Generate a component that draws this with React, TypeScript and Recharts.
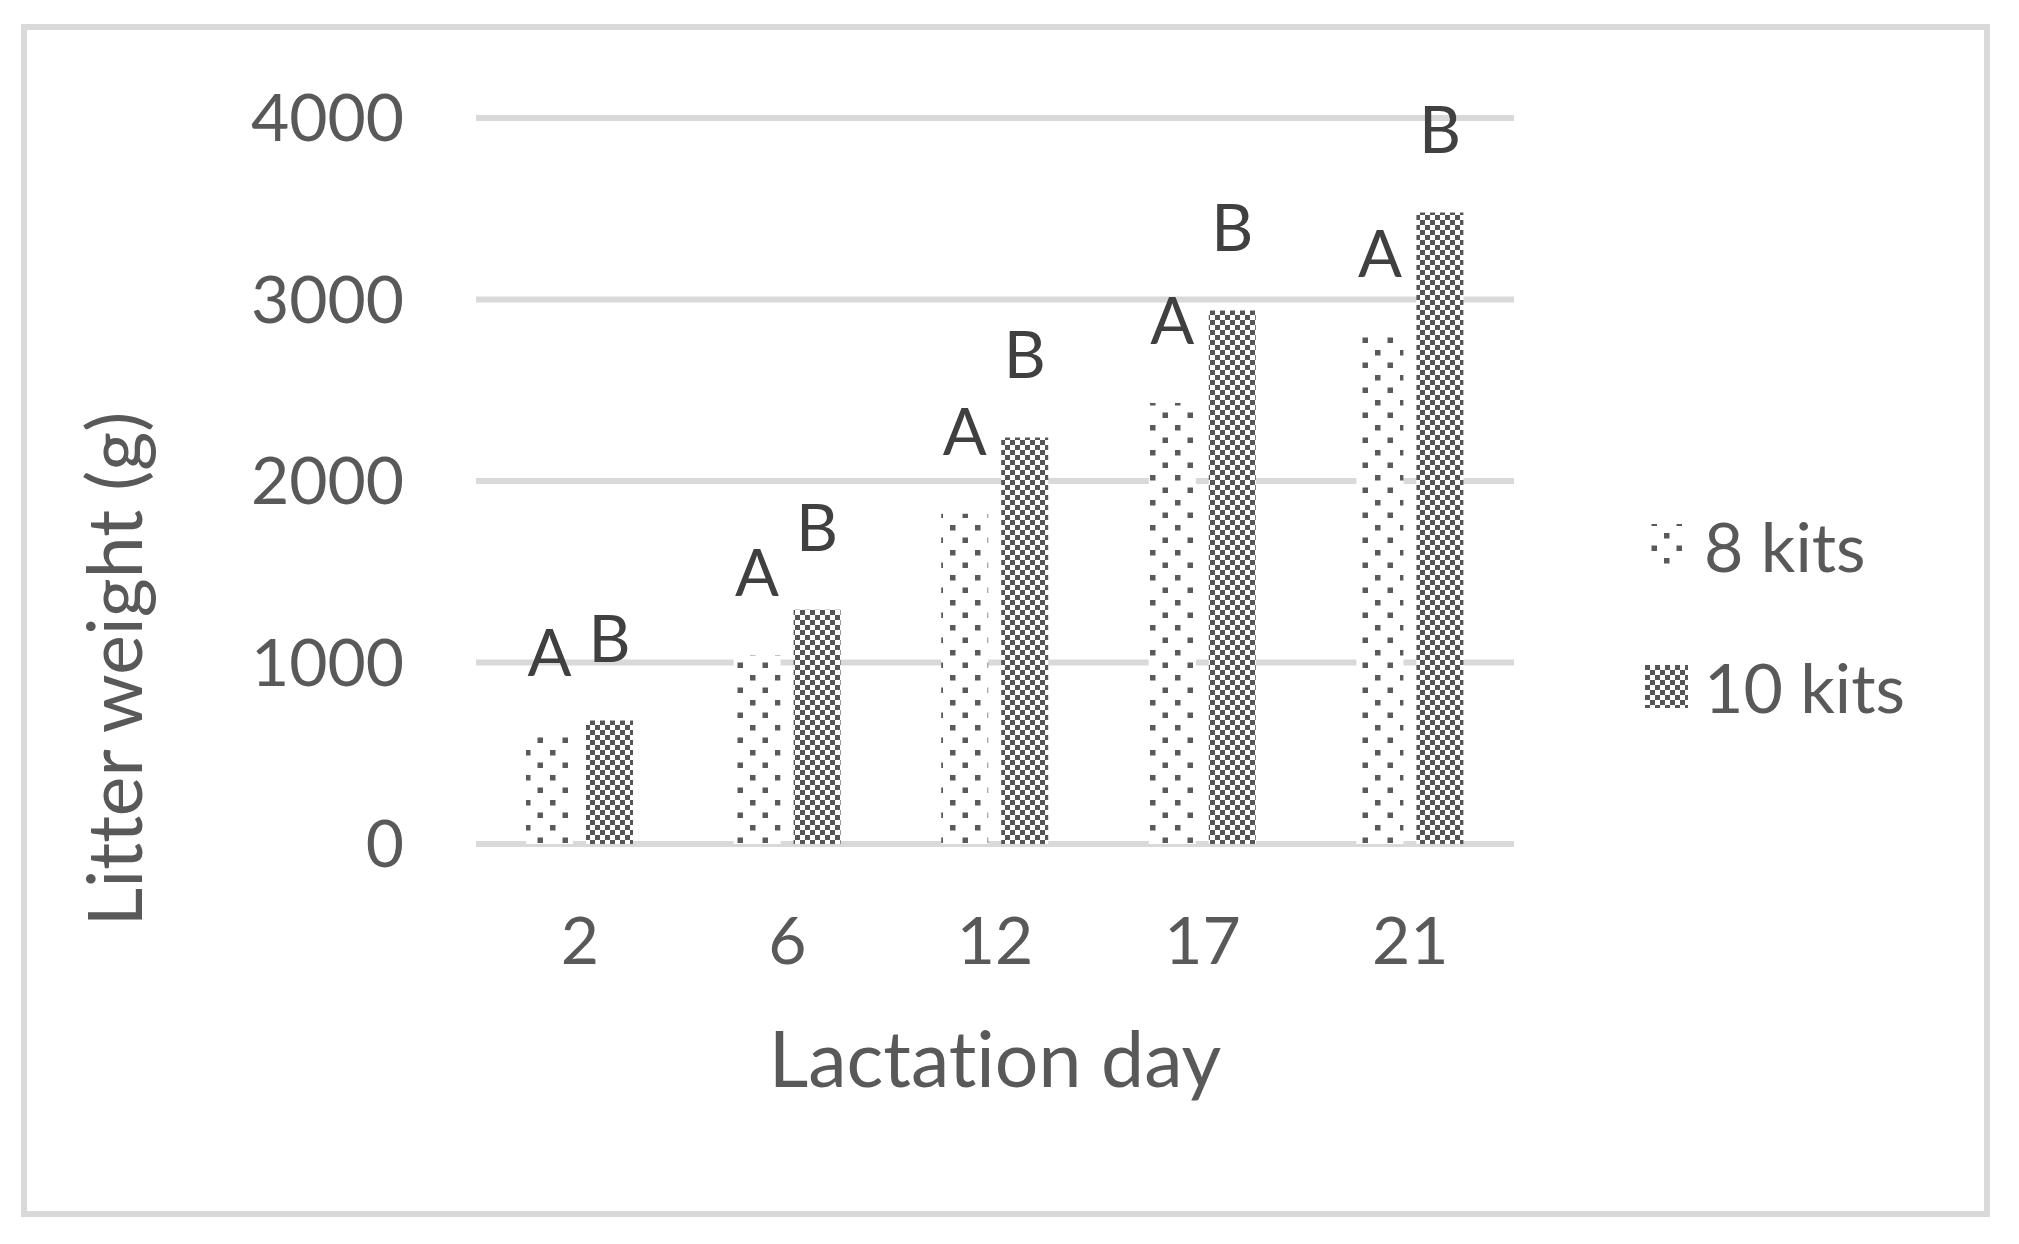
import React from 'react';
import { BarChart, Bar, XAxis, YAxis, CartesianGrid, Legend, LabelList, Label } from 'recharts';

const days = ['2', '6', '12', '17', '21'];
const kits8 = [600, 1040, 1820, 2430, 2800];
const kits10 = [680, 1290, 2240, 2940, 3480];
const letters8 = ['A', 'A', 'A', 'A', 'A'];
const letters10 = ['B', 'B', 'B', 'B', 'B'];
const yTicks = [0, 1000, 2000, 3000, 4000];
const legendOrder = ['k8', 'k10'];

const data = days.map((d, i) => ({
  day: d,
  k8: kits8[i],
  k10: kits10[i],
  l8: letters8[i],
  l10: letters10[i],
}));

const FONT = 'Lato, "Open Sans", sans-serif';
const TEXT = '#595959';
const GRID = '#d9d9d9';
const NOLIG: React.CSSProperties = { fontVariantLigatures: 'none', fontFeatureSettings: '"liga" 0, "clig" 0' };

const legendFill: Record<string, string> = { k8: 'url(#dotsLeg)', k10: 'url(#checkLeg)' };

const renderLegend = (props: any) => {
  const payload = [...(props.payload || [])].sort(
    (a: any, b: any) => legendOrder.indexOf(a.dataKey) - legendOrder.indexOf(b.dataKey)
  );
  return (
    <div style={{ fontFamily: FONT, fontSize: 68, color: TEXT, ...NOLIG }}>
      {payload.map((entry: any, i: number) => (
        <div key={i} style={{ display: 'flex', alignItems: 'center', height: 141 }}>
          <svg width={43} height={43} style={{ marginRight: 16, display: 'block' }}>
            <rect x={0} y={0} width={43} height={43} fill={legendFill[entry.dataKey] || entry.color} />
          </svg>
          <span style={{ lineHeight: 1 }}>{entry.value}</span>
        </div>
      ))}
    </div>
  );
};

export default function App() {
  return (
    <div style={{ position: 'absolute', left: 0, top: 0, width: 2019, height: 1244, background: '#fff' }}>
      <svg width={0} height={0} style={{ position: 'absolute' }}>
        <defs>
          <pattern id="dotsLeg" x={19} y={9} width={25} height={25} patternUnits="userSpaceOnUse">
            <rect x={0} y={0} width={25} height={25} fill="#fff" />
            <rect x={0} y={0} width={5.5} height={5.5} fill="#5a5a5a" />
            <rect x={12.5} y={12.5} width={5.5} height={5.5} fill="#5a5a5a" />
          </pattern>
          <pattern id="checkLeg" x={0} y={0} width={10} height={10} patternUnits="userSpaceOnUse">
            <rect x={0} y={0} width={10} height={10} fill="#fff" />
            <rect x={0} y={0} width={5} height={5} fill="#555" />
            <rect x={5} y={5} width={5} height={5} fill="#555" />
          </pattern>
        </defs>
      </svg>
      <div
        style={{
          position: 'absolute',
          left: 21,
          top: 24,
          width: 1969,
          height: 1193,
          border: `6px solid ${GRID}`,
          boxSizing: 'border-box',
        }}
      />
      <div style={{ position: 'absolute', left: 0, top: 0 }}>
        <BarChart
          width={2019}
          height={1244}
          data={data}
          margin={{ top: 118, right: 505, bottom: 200, left: 0 }}
          barSize={47}
          barGap={13}
          style={{ fontFamily: FONT, ...NOLIG }}
        >
          <defs>
            <pattern id="dots" x={0} y={0} width={25} height={25} patternUnits="userSpaceOnUse">
              <rect x={0} y={0} width={25} height={25} fill="#fff" />
              <rect x={0} y={0} width={5.5} height={5.5} fill="#5a5a5a" />
              <rect x={12.5} y={12.5} width={5.5} height={5.5} fill="#5a5a5a" />
            </pattern>
            <pattern id="check" x={0} y={0} width={10} height={10} patternUnits="userSpaceOnUse">
              <rect x={0} y={0} width={10} height={10} fill="#fff" />
              <rect x={0} y={0} width={5} height={5} fill="#555" />
              <rect x={5} y={5} width={5} height={5} fill="#555" />
            </pattern>
          </defs>
          <CartesianGrid vertical={false} stroke={GRID} strokeWidth={6} />
          <XAxis
            dataKey="day"
            height={200}
            axisLine={false}
            tickLine={false}
            tickSize={0}
            tickMargin={73}
            tick={{ fontSize: 66, fill: TEXT, fontFamily: FONT }}
          >
            <Label
              content={(p: any) => {
                const vb = p.viewBox || { x: 476, y: 844, width: 1038 };
                return (
                  <text
                    x={vb.x + vb.width / 2}
                    y={vb.y + 243}
                    textAnchor="middle"
                    fontSize={77}
                    fill={TEXT}
                    fontFamily={FONT}
                    style={NOLIG}
                  >
                    Lactation day
                  </text>
                );
              }}
            />
          </XAxis>
          <YAxis
            width={476}
            domain={[0, 4000]}
            ticks={yTicks}
            axisLine={false}
            tickLine={false}
            tickSize={0}
            tickMargin={72}
            tick={{ fontSize: 66, fill: TEXT, fontFamily: FONT }}
          >
            <Label
              content={(p: any) => {
                const vb = p.viewBox || { x: 0, y: 118 };
                const cx = vb.x + 142;
                const cy = vb.y + 551;
                return (
                  <text
                    x={cx}
                    y={cy}
                    transform={`rotate(-90 ${cx} ${cy})`}
                    textAnchor="middle"
                    fontSize={75}
                    fill={TEXT}
                    fontFamily={FONT}
                    style={NOLIG}
                  >
                    Litter weight (g)
                  </text>
                );
              }}
            />
          </YAxis>
          <Legend
            layout="vertical"
            align="center"
            verticalAlign="middle"
            content={renderLegend}
            wrapperStyle={{ left: 1645, top: 475, width: 360, height: 282 }}
          />
          <Bar dataKey="k8" name="8 kits" fill="url(#dots)" isAnimationActive={false}>
            <LabelList dataKey="l8" position="top" offset={59} fill="#404040" fontSize={65} fontFamily={FONT} />
          </Bar>
          <Bar dataKey="k10" name="10 kits" fill="url(#check)" isAnimationActive={false}>
            <LabelList dataKey="l10" position="top" offset={59} fill="#404040" fontSize={65} fontFamily={FONT} />
          </Bar>
        </BarChart>
      </div>
    </div>
  );
}
